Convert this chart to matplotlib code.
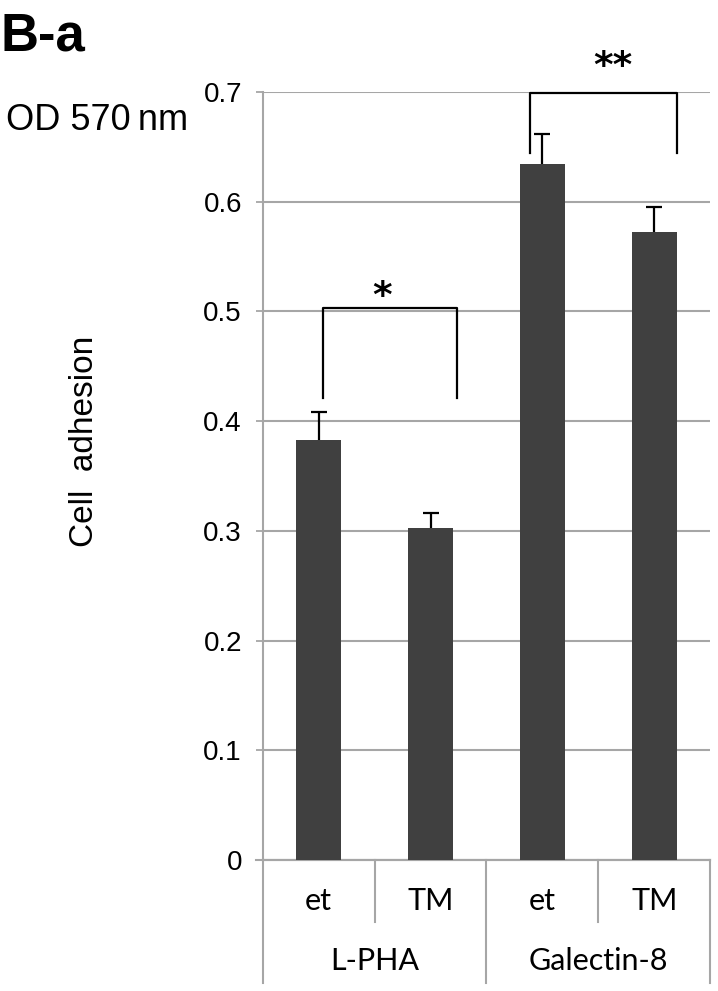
import matplotlib.pyplot as plt
from matplotlib.transforms import blended_transform_factory

# Data
treatments = ["et", "TM", "et", "TM"]
groups = ["L-PHA", "Galectin-8"]
adhesion = [0.383, 0.303, 0.634, 0.572]
adhesion_err = [0.025, 0.013, 0.028, 0.023]
yticks = [0, 0.1, 0.2, 0.3, 0.4, 0.5, 0.6, 0.7]

BAR = "#404040"
GRID = "#a6a6a6"

plt.rcParams["font.family"] = ["Liberation Sans", "DejaVu Sans"]

fig = plt.figure(figsize=(7.18, 9.91), dpi=100)
ax = fig.add_axes([0.366, 0.1322, 0.623, 0.775])

x = list(range(len(adhesion)))
ax.bar(x, adhesion, width=0.40, color=BAR, zorder=3)
# error bars drawn under the bars so only the upper half shows
ax.errorbar(x, adhesion, yerr=adhesion_err, fmt="none",
            ecolor="black", elinewidth=1.6, capsize=5.5, capthick=1.6, zorder=2.5)

ax.set_xlim(-0.5, 3.5)
ax.set_ylim(0, 0.7)
ax.set_yticks(yticks)
ax.set_yticklabels(["0"] + [f"{v:.1f}" for v in yticks[1:]], fontsize=20)
ax.tick_params(axis="y", direction="out", length=5, width=1.3, color=GRID, pad=10)
ax.set_xticks([])
ax.grid(axis="y", color=GRID, linewidth=1.5, zorder=0)
for s in ["top", "right"]:
    ax.spines[s].set_visible(False)
ax.spines["left"].set_color(GRID)
ax.spines["left"].set_linewidth(1.5)
ax.spines["bottom"].set_color(GRID)
ax.spines["bottom"].set_linewidth(1.5)

# Category axis (Excel-style multi-level labels)
tr = blended_transform_factory(ax.transData, ax.transAxes)
for xs, depth in [(-0.5, -0.160), (0.5, -0.081), (1.5, -0.160), (2.5, -0.081), (3.5, -0.160)]:
    ax.plot([xs, xs], [0, depth], transform=tr, color=GRID, lw=1.5, clip_on=False)
ax.plot([-0.56, 3.5], [0, 0], transform=tr, color=GRID, lw=1.5, clip_on=False)
for xi, t in zip(x, treatments):
    ax.text(xi, -0.054, t, transform=tr, ha="center", va="center",
            fontsize=22, family=["Lato", "DejaVu Sans"])
for gi, g in enumerate(groups):
    ax.text(gi * 2 + 0.5, -0.131, g, transform=tr, ha="center", va="center",
            fontsize=22, family=["Lato", "DejaVu Sans"])

# Significance brackets
brackets = [(0.04, 1.235, 0.503, 0.421, "*", 0.57, 0.513),
            (1.89, 3.20, 0.699, 0.644, "**", 2.63, 0.723)]
for x0, x1, top, leg, star, sx, sy in brackets:
    ax.plot([x0, x0, x1, x1], [leg, top, top, leg], color="black", lw=1.6,
            clip_on=False, zorder=5)
    ax.text(sx, sy, star, ha="center", va="center", fontsize=27,
            fontweight="bold", family="DejaVu Sans", clip_on=False)

fig.text(0.0, 0.988, "B-a", fontsize=38, fontweight="bold", ha="left", va="top")
fig.text(0.008, 0.878, "OD 570\u2009nm", fontsize=26, ha="left", va="center")
fig.text(0.118, 0.555, "Cell  adhesion", fontsize=24, rotation=90,
         ha="center", va="center")

fig.savefig("out.png", dpi=100)
